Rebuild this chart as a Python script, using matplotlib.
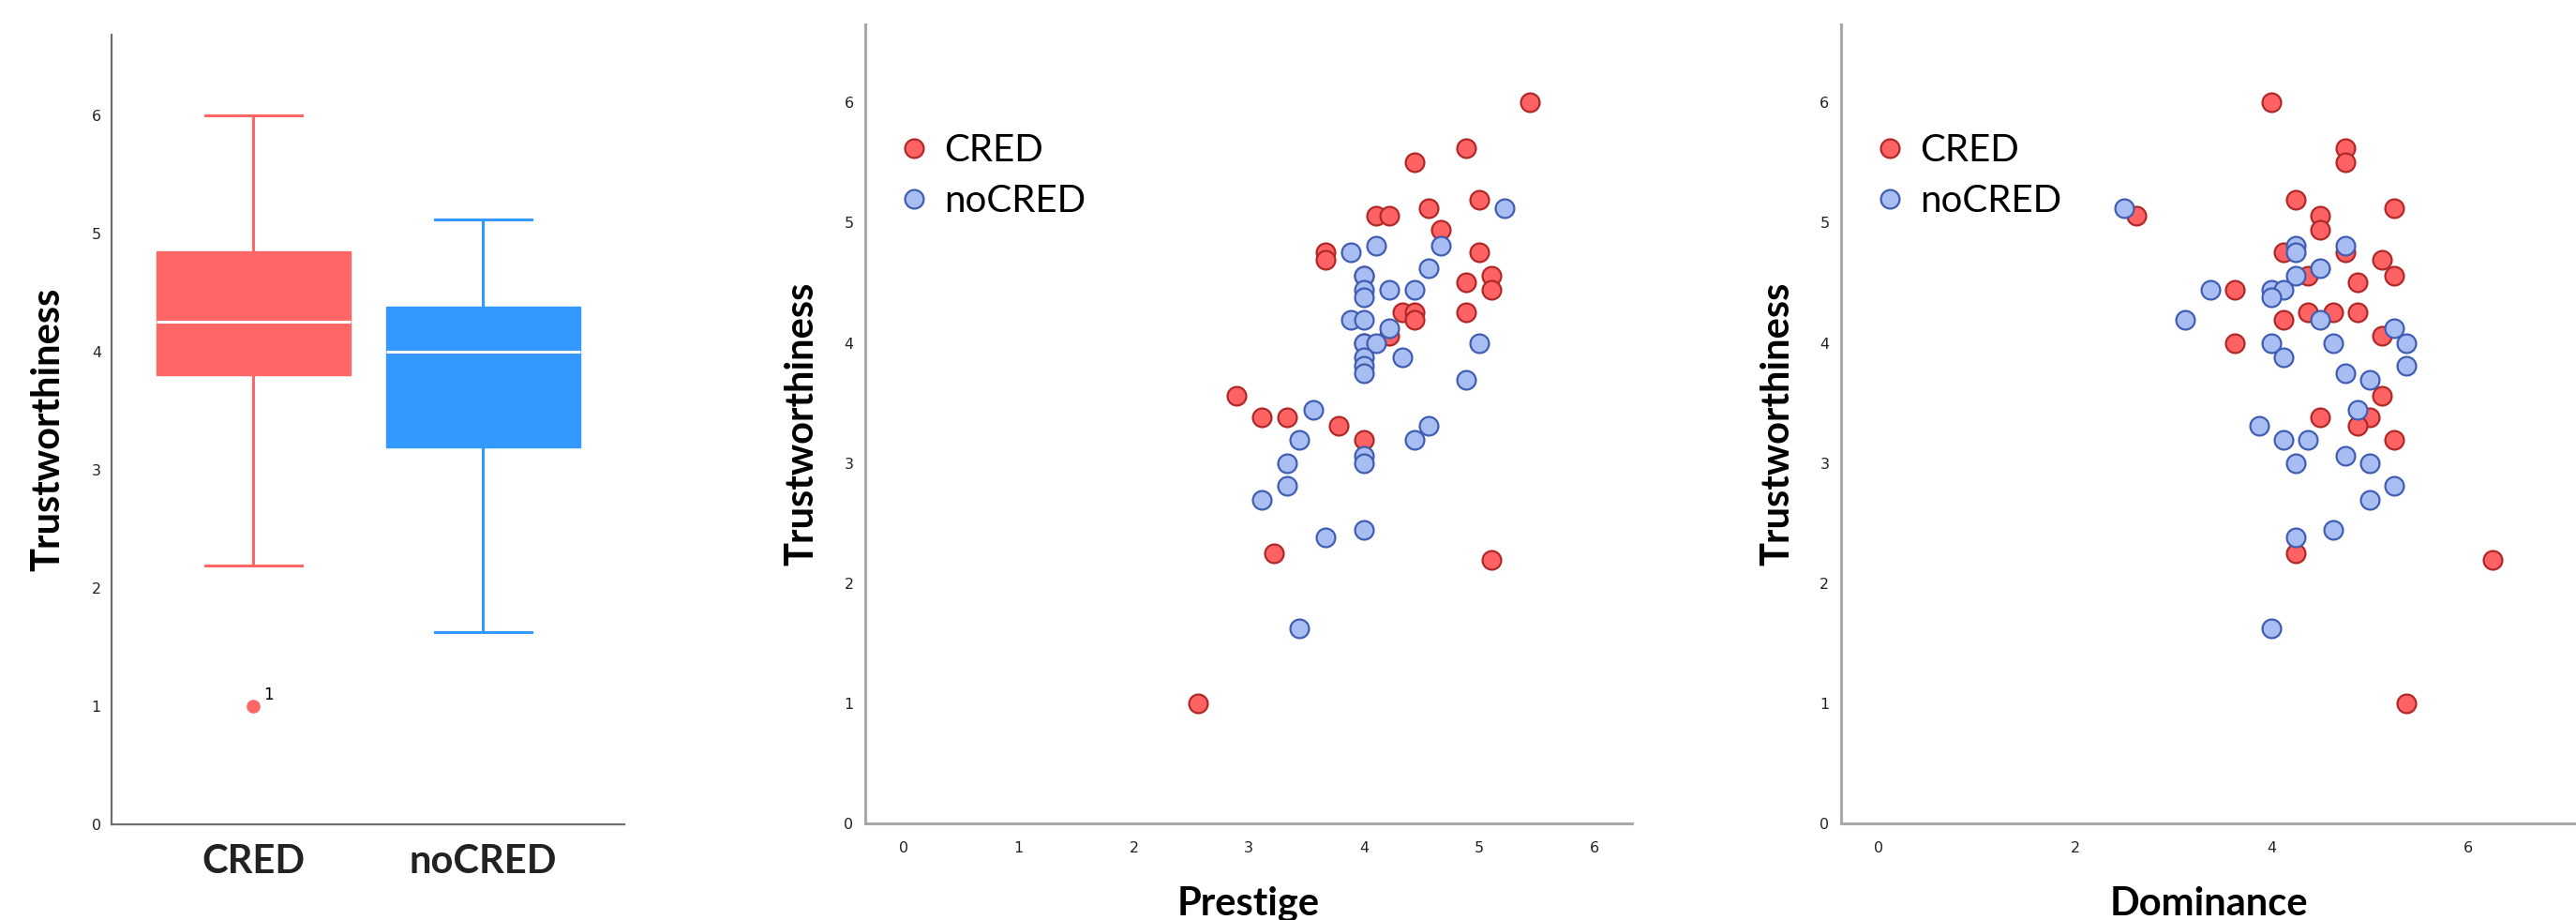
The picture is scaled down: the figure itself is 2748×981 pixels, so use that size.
import matplotlib
matplotlib.use('Agg')
import matplotlib.pyplot as plt

# ── Data ──────────────────────────────────────────────────────────────────────
groups = ["CRED", "noCRED"]

# box plot summaries for Trustworthiness
box_whislo = [2.19, 1.63]
box_q1     = [3.80, 3.19]
box_med    = [4.25, 4.00]
box_q3     = [4.85, 4.38]
box_whishi = [6.00, 5.12]
box_fliers = [[1.00], []]
flier_case = ["1"]

# Prestige vs Trustworthiness
prestige_cred = [5.44, 4.89, 4.44, 5.00, 4.56, 4.11, 4.22, 4.67, 3.67, 3.67,
                 5.00, 5.11, 5.11, 4.89, 4.00, 4.33, 4.44, 4.44, 4.89, 4.22,
                 4.00, 2.89, 3.11, 3.33, 3.78, 4.00, 3.22, 5.11, 2.56]
trust_cred_p  = [6.00, 5.62, 5.50, 5.19, 5.12, 5.06, 5.06, 4.94, 4.75, 4.69,
                 4.75, 4.56, 4.44, 4.50, 4.56, 4.25, 4.25, 4.19, 4.25, 4.06,
                 4.00, 3.56, 3.38, 3.38, 3.31, 3.19, 2.25, 2.19, 1.00]
prestige_nocred = [5.22, 4.11, 4.67, 3.89, 4.56, 4.00, 4.00, 4.00, 4.22, 4.44,
                   3.89, 4.00, 4.22, 4.00, 4.11, 4.33, 5.00, 4.00, 4.00, 4.00,
                   4.89, 3.56, 4.56, 3.44, 4.44, 4.00, 4.00, 3.33, 3.33, 3.11,
                   3.67, 4.00, 3.44]
trust_nocred_p  = [5.12, 4.81, 4.81, 4.75, 4.62, 4.56, 4.44, 4.38, 4.44, 4.44,
                   4.19, 4.19, 4.12, 4.00, 4.00, 3.88, 4.00, 3.88, 3.81, 3.75,
                   3.69, 3.44, 3.31, 3.19, 3.19, 3.06, 3.00, 3.00, 2.81, 2.69,
                   2.38, 2.44, 1.62]

# Dominance vs Trustworthiness
dominance_cred = [4.00, 4.75, 4.75, 4.25, 5.25, 4.50, 4.50, 4.125, 4.75, 5.125,
                  5.25, 4.375, 4.875, 3.625, 4.125, 4.375, 4.625, 4.875, 5.125, 3.625,
                  5.125, 4.50, 5.00, 4.875, 5.25, 4.25, 6.25, 5.375, 2.625]
trust_cred_d   = [6.00, 5.62, 5.50, 5.19, 5.12, 5.06, 4.94, 4.75, 4.75, 4.69,
                  4.56, 4.56, 4.50, 4.44, 4.19, 4.25, 4.25, 4.25, 4.06, 4.00,
                  3.56, 3.38, 3.38, 3.31, 3.19, 2.25, 2.19, 1.00, 5.06]
dominance_nocred = [4.25, 4.25, 4.75, 4.50, 4.25, 3.375, 4.00, 4.125, 4.00, 3.125,
                    4.50, 5.25, 5.375, 4.00, 4.625, 4.125, 5.375, 4.75, 5.00, 4.875,
                    3.875, 4.125, 4.375, 4.25, 4.75, 5.00, 5.25, 5.00, 4.625, 4.25,
                    4.00, 2.50]
trust_nocred_d   = [4.81, 4.75, 4.81, 4.62, 4.56, 4.44, 4.44, 4.44, 4.38, 4.19,
                    4.19, 4.12, 4.00, 4.00, 4.00, 3.88, 3.81, 3.75, 3.69, 3.44,
                    3.31, 3.19, 3.19, 3.00, 3.06, 3.00, 2.81, 2.69, 2.44, 2.38,
                    1.62, 5.12]

# ── Style ─────────────────────────────────────────────────────────────────────
BOX_COLS   = ["#FF6666", "#3399FF"]
RED_FACE   = "#FF6262"
RED_EDGE   = "#B02828"
BLUE_FACE  = "#A8BEF3"
BLUE_EDGE  = "#3F5DB2"
LAB_FONT   = dict(family="Lato", fontsize=30, fontweight="bold")
TICK_FONT  = ["DejaVu Sans"]

W, H = 2748, 981
fig = plt.figure(figsize=(W / 100, H / 100), dpi=100)

def px_axes(x0, y_top, x1, y_bot):
    return fig.add_axes([x0 / W, 1 - y_bot / H, (x1 - x0) / W, (y_bot - y_top) / H])

ax1 = px_axes(119, 37, 666, 879)
ax2 = px_axes(923, 26, 1741, 878)
ax3 = px_axes(1964, 26, 2748, 878)

for ax, col, lw in ((ax1, "#6E6E6E", 1.6), (ax2, "#A8A8A8", 2.2), (ax3, "#A8A8A8", 2.2)):
    ax.spines[["top", "right"]].set_visible(False)
    for s in ("left", "bottom"):
        ax.spines[s].set_color(col)
        ax.spines[s].set_linewidth(lw)
    ax.tick_params(length=0, labelsize=11.5, colors="#222222")
    for lab in ax.get_yticklabels():
        lab.set_family(TICK_FONT)

# ── Box plot ─────────────────────────────────────────────────────────────────
stats = []
for i, g in enumerate(groups):
    stats.append(dict(label=g, whislo=box_whislo[i], q1=box_q1[i], med=box_med[i],
                      q3=box_q3[i], whishi=box_whishi[i], fliers=box_fliers[i]))
bp = ax1.bxp(stats, positions=[1, 2], widths=0.845, capwidths=0.42,
             patch_artist=True, showfliers=True)
for i, c in enumerate(BOX_COLS):
    bp["boxes"][i].set(facecolor=c, edgecolor=c, linewidth=1)
    bp["medians"][i].set(color="white", linewidth=2.2)
    for k in (2 * i, 2 * i + 1):
        bp["whiskers"][k].set(color=c, linewidth=2.2)
        bp["caps"][k].set(color=c, linewidth=2.2)
    bp["fliers"][i].set(marker="o", markerfacecolor=c, markeredgecolor=c,
                        markersize=9.5)
for v, lab in zip(box_fliers[0], flier_case):
    ax1.annotate(lab, (1, v), xytext=(8, 5), textcoords="offset points",
                 fontsize=12, family=TICK_FONT)
ax1.set_xlim(0.383, 2.616)
ax1.set_ylim(0, 6.68)
ax1.set_yticks(range(0, 7))
ax1.set_xticks([1, 2], groups)
for lab in ax1.get_xticklabels():
    lab.set(**LAB_FONT)
ax1.tick_params(axis="x", pad=15)
ax1.tick_params(axis="y", pad=8)
ax1.set_ylabel("Trustworthiness", va="center", **LAB_FONT)
ax1.yaxis.set_label_coords(-68 / 547, 0.5)

# ── Scatter plots ────────────────────────────────────────────────────────────
def scatter_panel(ax, xc, yc, xn, yn, xlabel, xlim, xticks, wpx):
    ax.scatter(xc, yc, s=205, c=RED_FACE, edgecolors=RED_EDGE, linewidths=1.6,
               label="CRED", zorder=3)
    ax.scatter(xn, yn, s=205, c=BLUE_FACE, edgecolors=BLUE_EDGE, linewidths=1.6,
               label="noCRED", zorder=4)
    ax.set_xlim(*xlim)
    ax.set_ylim(0, 6.65)
    ax.set_xticks(xticks)
    ax.set_yticks(range(0, 7))
    for lab in ax.get_xticklabels():
        lab.set_family(TICK_FONT)
    ax.tick_params(axis="x", pad=14)
    ax.tick_params(axis="y", pad=9)
    ax.set_xlabel(xlabel, **LAB_FONT)
    ax.xaxis.set_label_coords(0.5, -86 / 852)
    ax.xaxis.label.set_va("center")
    ax.set_ylabel("Trustworthiness", va="center", **LAB_FONT)
    ax.yaxis.set_label_coords(-68 / wpx, 0.5)
    ax.legend(loc="upper left", bbox_to_anchor=(40 / wpx, 1 - 116 / 852),
              frameon=False, prop=dict(family="Lato", size=29),
              handlelength=0.6, handletextpad=0.5, labelspacing=0.42,
              borderpad=0, borderaxespad=0, scatteryoffsets=[0.5])

scatter_panel(ax2, prestige_cred, trust_cred_p, prestige_nocred, trust_nocred_p,
              "Prestige", (-0.334, 6.33), range(0, 7), 818)
scatter_panel(ax3, dominance_cred, trust_cred_d, dominance_nocred, trust_nocred_d,
              "Dominance", (-0.38, 7.10), [0, 2, 4, 6], 784)

fig.savefig("out.png", dpi=100, facecolor="white")
